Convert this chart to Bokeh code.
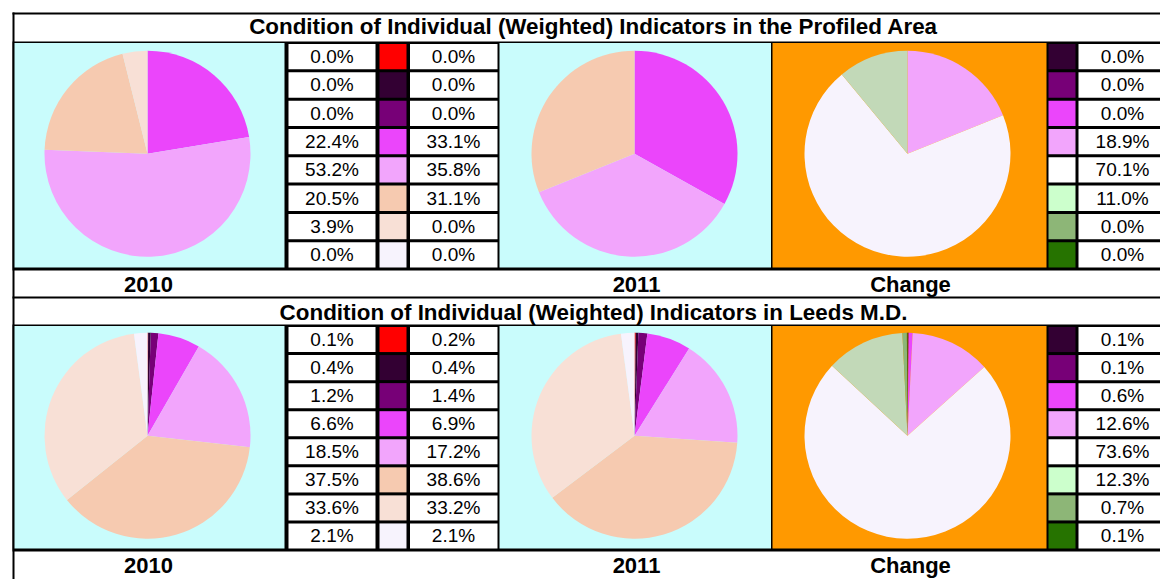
import numpy as np
from bokeh.plotting import figure
from bokeh.models import Range1d
from bokeh.embed import file_html
from bokeh.resources import INLINE
from bokeh.core.properties import value

# ---------------- data ----------------
categories = ["c1", "c2", "c3", "c4", "c5", "c6", "c7", "c8"]
cond_colors = ["#FF0000", "#330033", "#770077", "#EB45FB", "#F2A5FC", "#F6CAB0", "#F8E0D6", "#F7F3FD"]
change_colors = ["#330033", "#770077", "#EB45FB", "#F2A5FC", "#FFFFFF", "#CCFFCC", "#8DB677", "#267300"]
change_pie_colors = ["#330033", "#770077", "#EB45FB", "#F2A5FC", "#F7F3FD", "#C2D9B8", "#8DB677", "#267300"]

profiled_2010 = [0.0, 0.0, 0.0, 22.4, 53.2, 20.5, 3.9, 0.0]
profiled_2011 = [0.0, 0.0, 0.0, 33.1, 35.8, 31.1, 0.0, 0.0]
profiled_change = [0.0, 0.0, 0.0, 18.9, 70.1, 11.0, 0.0, 0.0]
leeds_2010 = [0.1, 0.4, 1.2, 6.6, 18.5, 37.5, 33.6, 2.1]
leeds_2011 = [0.2, 0.4, 1.4, 6.9, 17.2, 38.6, 33.2, 2.1]
leeds_change = [0.1, 0.1, 0.6, 12.6, 73.6, 12.3, 0.7, 0.1]

titles = ["Condition of Individual (Weighted) Indicators in the Profiled Area",
          "Condition of Individual (Weighted) Indicators in Leeds M.D."]
panel_labels = ["2010", "2011", "Change"]

# ---------------- figure ----------------
W, H = 1160, 579
FONT = "Liberation Sans"
CYAN = "#C9FCFC"
ORANGE = "#FF9900"

p = figure(width=W, height=H, output_backend="svg", toolbar_location=None,
           x_range=Range1d(0, W), y_range=Range1d(0, H),
           x_axis_location=None, y_axis_location=None,
           min_border=0, background_fill_color="white", border_fill_color="white")
p.outline_line_color = None
p.grid.visible = False


def Y(v):
    return H - v


def box(x0, x1, y0, y1, color):
    p.quad(left=x0, right=x1, top=Y(y0), bottom=Y(y1), fill_color=color, line_color=None)


def txt(x, y, s, size, bold=False, align="center"):
    p.text(x=[x], y=[Y(y)], text=[s], text_font=value(FONT), text_font_size=size,
           text_font_style="bold" if bold else "normal", text_align=align,
           text_baseline="middle", text_color="black")


def pie(cx, cy, r, vals, colors):
    vals = np.asarray(vals, dtype=float)
    frac = vals / vals.sum()
    cum = np.cumsum(frac)
    prev = np.concatenate([[0.0], cum[:-1]])
    m = vals > 0
    starts = np.pi / 2 - 2 * np.pi * prev[m]
    ends = np.pi / 2 - 2 * np.pi * cum[m]
    p.wedge(x=[cx] * int(m.sum()), y=[Y(cy)] * int(m.sum()), radius=r,
            start_angle=starts, end_angle=ends, direction="clock",
            fill_color=[c for c, k in zip(colors, m) if k], line_color=None)


def table_rows(t0, t1):
    gap = 3.0
    pitch = (t1 - t0 + gap) / 8
    return [(t0 + i * pitch, t0 + i * pitch + pitch - gap) for i in range(8)]


def block(top, bottom, v2010, v2011, vchg, title, title_mid):
    txt(593, title_mid, title, "22.4px", bold=True)
    box(12, 1160, top, bottom, "black")
    inner_t, inner_b = top + 1.5, bottom - 3
    box(14, 284, inner_t, inner_b, CYAN)
    box(499, 770.5, inner_t, inner_b, CYAN)
    box(772, 1046, inner_t, inner_b, ORANGE)
    pcy = (inner_t + inner_b) / 2 - 1.5
    pie(147, pcy, 103, v2010, cond_colors)
    pie(634, pcy, 103, v2011, cond_colors)
    pie(907, pcy, 103, vchg, change_pie_colors)
    rows = table_rows(inner_t + 1, inner_b)
    for i, (ra, rb) in enumerate(rows):
        cy = (ra + rb) / 2
        box(288, 375, ra, rb, "white")
        box(379, 406, ra, rb, cond_colors[i])
        box(409.5, 497, ra, rb, "white")
        box(1048, 1075, ra, rb, change_colors[i])
        box(1078, 1160, ra, rb, "white")
        txt(331.5, cy, f"{v2010[i]:.1f}%", "19px")
        txt(453, cy, f"{v2011[i]:.1f}%", "19px")
        txt(1122, cy, f"{vchg[i]:.1f}%", "19px")


box(12, 1160, 12, 14, "black")
box(12, 14, 12, H, "black")

block(41, 270, profiled_2010, profiled_2011, profiled_change, titles[0], 25.5)
for x, lab in zip([148, 636, 910], panel_labels):
    txt(x, 284, lab, "22px", bold=True)
box(12, 1160, 296, 298, "black")
block(324, 551, leeds_2010, leeds_2011, leeds_change, titles[1], 311.5)
for x, lab in zip([148, 636, 910], panel_labels):
    txt(x, 564.5, lab, "22px", bold=True)

open("out.html", "w").write(file_html(p, INLINE))
